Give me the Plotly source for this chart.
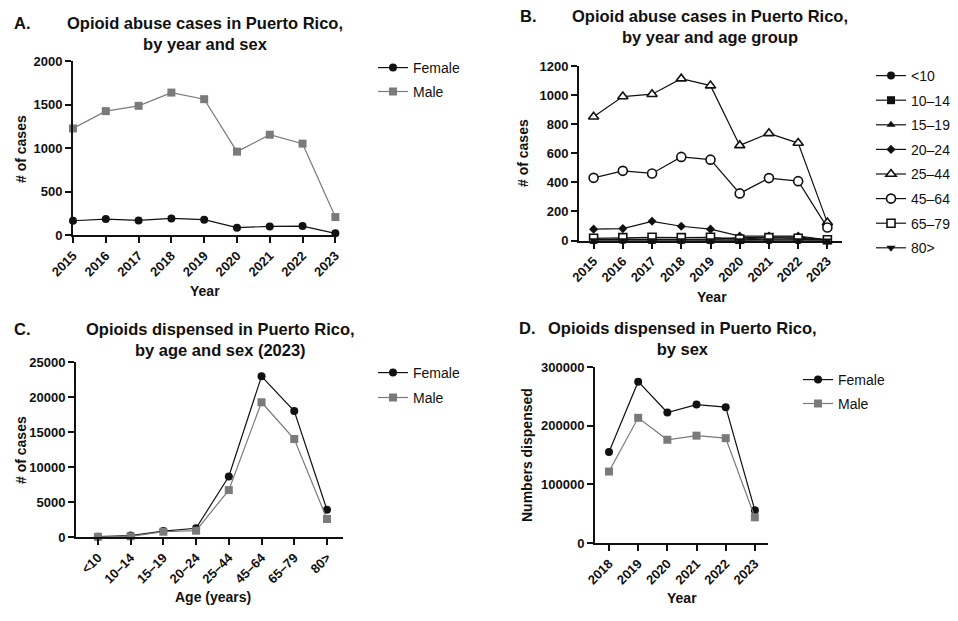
import plotly.graph_objects as go

W, H = 958, 621
FONT = "Liberation Sans, Arial, sans-serif"

# ---------------- data ----------------
years_a = [2015, 2016, 2017, 2018, 2019, 2020, 2021, 2022, 2023]
a_female = [164, 183, 168, 191, 176, 84, 99, 103, 19]
a_male = [1225, 1424, 1485, 1637, 1561, 958, 1153, 1050, 206]

years_b = [2015, 2016, 2017, 2018, 2019, 2020, 2021, 2022, 2023]
age_groups = ["<10", "10–14", "15–19", "20–24", "25–44", "45–64", "65–79", "80>"]
b_lt10 = [2, 3, 2, 2, 2, 1, 2, 2, 1]
b_10_14 = [5, 8, 5, 5, 5, 3, 10, 10, 2]
b_15_19 = [5, 10, 8, 8, 10, 20, 25, 25, 3]
b_20_24 = [78, 82, 132, 98, 78, 30, 30, 30, 5]
b_25_44 = [851, 990, 1006, 1113, 1065, 654, 737, 670, 123]
b_45_64 = [431, 479, 461, 575, 556, 324, 429, 408, 89]
b_65_79 = [15, 20, 22, 20, 22, 10, 20, 15, 5]
b_80plus = [1, 2, 2, 2, 1, 1, 1, 1, 0]

c_ages = ["<10", "10–14", "15–19", "20–24", "25–44", "45–64", "65–79", "80>"]
c_female = [50, 200, 850, 1250, 8650, 22950, 18000, 3900]
c_male = [30, 100, 750, 900, 6700, 19250, 14000, 2570]

years_d = [2018, 2019, 2020, 2021, 2022, 2023]
d_female = [155000, 275000, 222500, 236000, 231600, 55800]
d_male = [121800, 213400, 176000, 183000, 178700, 43800]

# ---------------- helpers ----------------
def px_x(p):
    return p / W

def px_y(p):
    return 1 - p / H

BLACK = "#111111"
GRAY = "#7a7a7a"

fig = go.Figure()

def add_series(x, y, name, xa, ya, legend, symbol, color, group, open_marker=False, size=8):
    marker = dict(symbol=symbol, size=size, color=color,
                  line=dict(color=color, width=0))
    if open_marker:
        marker = dict(symbol=symbol, size=size, color="white",
                      line=dict(color=color, width=1.6))
    fig.add_trace(go.Scatter(
        x=x, y=y, name=name, mode="lines+markers",
        line=dict(color=color, width=1.2),
        marker=marker, xaxis=xa, yaxis=ya, legend=legend,
        legendgroup=group, cliponaxis=False, showlegend=True))

# Panel A
add_series(years_a, a_female, "Female", "x", "y", "legend", "circle", BLACK, "aF")
add_series(years_a, a_male, "Male", "x", "y", "legend", "square", GRAY, "aM")

# Panel B
b_series = [b_lt10, b_10_14, b_15_19, b_20_24, b_25_44, b_45_64, b_65_79, b_80plus]
b_symbols = ["circle", "square", "triangle-up", "diamond", "triangle-up",
             "circle", "square", "triangle-down"]
b_open = [False, False, False, False, True, True, True, False]
b_sizes = [8, 8, 8, 7, 9, 9, 8, 8]
for i, (name, vals) in enumerate(zip(age_groups, b_series)):
    add_series(years_b, vals, name, "x2", "y2", "legend2", b_symbols[i], BLACK,
               "b%d" % i, open_marker=b_open[i], size=b_sizes[i])

# Panel C
add_series(c_ages, c_female, "Female", "x3", "y3", "legend3", "circle", BLACK, "cF")
add_series(c_ages, c_male, "Male", "x3", "y3", "legend3", "square", GRAY, "cM")

# Panel D
add_series(years_d, d_female, "Female", "x4", "y4", "legend4", "circle", BLACK, "dF")
add_series(years_d, d_male, "Male", "x4", "y4", "legend4", "square", GRAY, "dM")

tickfont = dict(family=FONT, size=13, color=BLACK, weight="bold")

def xaxis(domain, rng, **kw):
    d = dict(domain=domain, range=rng, showline=True, linecolor=BLACK, linewidth=2,
             ticks="outside", ticklen=6, tickwidth=2, tickcolor=BLACK,
             showgrid=False, zeroline=False, tickangle=-45, tickfont=tickfont,
             automargin=False)
    d.update(kw)
    return d

def yaxis(domain, rng, dtick, anchor):
    return dict(domain=domain, range=rng, dtick=dtick, tick0=0, showline=True,
                linecolor=BLACK, linewidth=2, ticks="outside", ticklen=6,
                tickwidth=2, tickcolor=BLACK, showgrid=False, zeroline=False,
                tickfont=tickfont, tickformat="d", anchor=anchor, automargin=False)

layout = dict(
    width=W, height=H, margin=dict(l=0, r=0, t=0, b=0, autoexpand=False),
    paper_bgcolor="white", plot_bgcolor="white",
    font=dict(family=FONT, color=BLACK),
    xaxis=xaxis([px_x(73), px_x(337)], [2015, 2023.05], dtick=1, tick0=2015, anchor="y"),
    yaxis=yaxis([px_y(235), px_y(61)], [0, 2000], 500, "x"),
    xaxis2=xaxis([px_x(579), px_x(842)], [2014.5, 2023.5], dtick=1, tick0=2015, anchor="y2"),
    yaxis2=yaxis([px_y(240.5), px_y(66)], [0, 1200], 200, "x2"),
    xaxis3=xaxis([px_x(76), px_x(343)], [-0.67, 7.49], type="category", anchor="y3"),
    yaxis3=yaxis([px_y(537), px_y(362)], [0, 25000], 5000, "x3"),
    xaxis4=xaxis([px_x(595), px_x(768)], [2017.52, 2023.45], dtick=1, tick0=2018, anchor="y4"),
    yaxis4=yaxis([px_y(543), px_y(367)], [0, 300000], 100000, "x4"),
)

def legend(xp, yp, gap):
    return dict(x=px_x(xp), y=px_y(yp), xanchor="left", yanchor="top",
                font=dict(family=FONT, size=14, color=BLACK),
                bgcolor="rgba(0,0,0,0)", tracegroupgap=gap, itemwidth=30)

layout["legend"] = legend(373, 52, 2.7)
layout["legend2"] = legend(871, 60, 3.4)
layout["legend3"] = legend(373, 357, 3.7)
layout["legend4"] = legend(798, 364, 2.7)

fig.update_layout(**layout)

ann = []
def text(x, y, s, size, bold=True, angle=0):
    ann.append(dict(x=px_x(x), y=px_y(y), xref="paper", yref="paper", text=s,
                    showarrow=False, textangle=angle,
                    font=dict(family=FONT, size=size, color=BLACK,
                              weight="bold" if bold else "normal"),
                    xanchor="center", yanchor="middle"))

def label(x, y, s):
    ann.append(dict(x=px_x(x), y=px_y(y), xref="paper", yref="paper", text=s,
                    showarrow=False, font=dict(family=FONT, size=16.5, color=BLACK, weight="bold"),
                    xanchor="left", yanchor="middle"))

# Panel titles
label(12, 23, "A.")
text(205, 33, "Opioid abuse cases in Puerto Rico,<br>by year and sex", 16.5)
label(518, 16, "B.")
text(710, 27, "Opioid abuse cases in Puerto Rico,<br>by year and age group", 16.5)
label(12, 329, "C.")
text(220, 339, "Opioids dispensed in Puerto Rico,<br>by age and sex (2023)", 16.5)
label(517, 328, "D.")
text(682, 338, "Opioids dispensed in Puerto Rico,<br>by sex", 16.5)

# Axis titles
text(205, 291, "Year", 14)
text(21, 149, "# of cases", 14, angle=-90)
text(712, 297, "Year", 14)
text(523, 153, "# of cases", 14, angle=-90)
text(213, 597, "Age (years)", 14)
text(21, 450, "# of cases", 14, angle=-90)
text(682, 598, "Year", 14)
text(527, 455, "Numbers dispensed", 14, angle=-90)

fig.update_layout(annotations=ann)
fig.write_html("out.html")
